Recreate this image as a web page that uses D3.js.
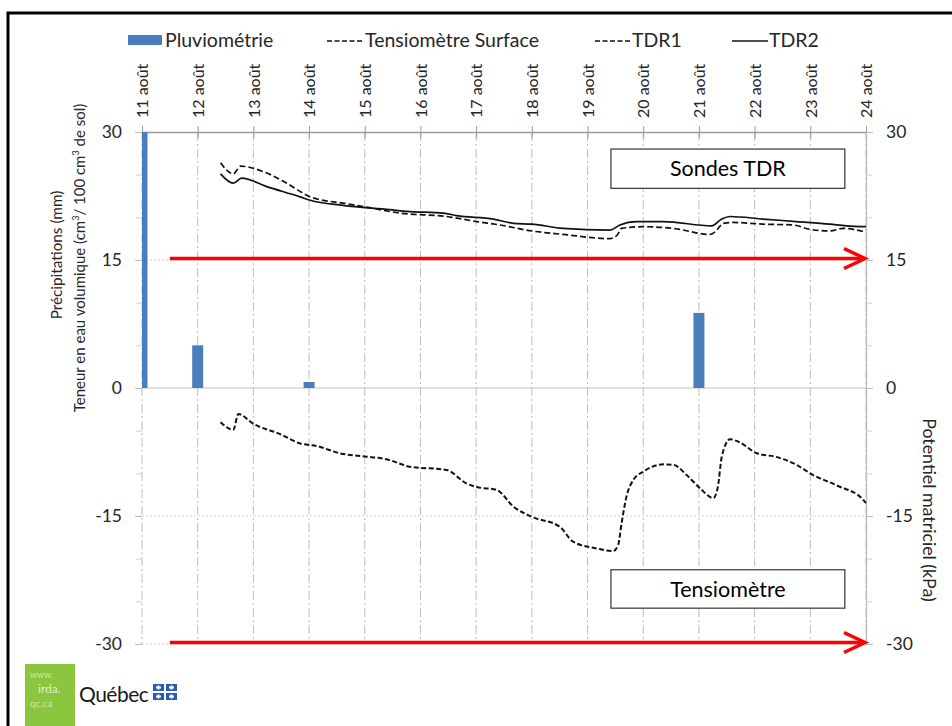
<!DOCTYPE html>
<html>
<head>
<meta charset="utf-8">
<script src="https://cdn.jsdelivr.net/npm/d3@7"></script>
<style>
  body { margin: 0; background: #fff; }
  svg { display: block; font-family: Lato, "Open Sans", sans-serif; }
</style>
</head>
<body>
<div id="chart"></div>
<script>
// Days on the x axis (day number in August)
const dayNums = [11, 12, 13, 14, 15, 16, 17, 18, 19, 20, 21, 22, 23, 24];
const dayLabels = dayNums.map((d) => `${d} août`);

// Daily rainfall (mm)
const rain = [30, 5, 0, 0.7, 0, 0, 0, 0, 0, 0, 8.8, 0, 0, 0];

// TDR1 volumetric water content (t = fractional day, v = cm3/100 cm3)
const tdr1 = [
  [12.41, 26.4], [12.64, 25.1], [12.77, 26.0], [13.2, 25.3], [13.6, 24.0],
  [14.02, 22.4], [14.67, 21.6], [15.03, 21.2], [15.63, 20.5], [16.47, 20.1],
  [17.01, 19.5], [17.43, 19.1], [18.0, 18.4], [18.56, 18.0], [19.4, 17.5],
  [19.53, 17.9], [19.61, 18.7], [20.0, 18.9], [20.54, 18.7], [21.2, 18.0],
  [21.29, 18.3], [21.44, 19.3], [21.62, 19.4], [22.15, 19.2], [22.69, 19.1],
  [22.99, 18.6], [23.35, 18.4], [23.59, 18.7], [24.0, 18.25]
];

// TDR2 volumetric water content
const tdr2 = [
  [12.41, 25.1], [12.64, 24.0], [12.79, 24.6], [13.24, 23.6], [13.84, 22.4],
  [14.02, 22.0], [14.61, 21.4], [15.45, 20.9], [15.75, 20.7], [16.41, 20.5],
  [16.65, 20.2], [17.31, 19.8], [17.67, 19.3], [18.0, 19.2], [18.56, 18.7],
  [19.4, 18.5], [19.58, 19.1], [19.88, 19.5], [20.36, 19.5], [21.23, 19.0],
  [21.41, 19.8], [21.56, 20.1], [22.15, 19.8], [22.75, 19.5], [23.35, 19.2],
  [23.65, 19.0], [24.0, 18.9]
];

// Surface tensiometer, matric potential (kPa)
const tensio = [
  [12.41, -4.0], [12.64, -4.9], [12.73, -3.05], [13.0, -4.2], [13.48, -5.4],
  [13.84, -6.5], [14.14, -6.8], [14.55, -7.65], [15.03, -8.05], [15.39, -8.35],
  [15.69, -9.0], [15.78, -9.2], [16.47, -9.6], [16.83, -11.2], [17.01, -11.6],
  [17.37, -11.95], [17.67, -13.9], [18.0, -15.1], [18.5, -16.25], [18.74, -18.0],
  [19.16, -18.8], [19.46, -19.1], [19.55, -18.4], [19.61, -15.9], [19.7, -12.7],
  [19.82, -10.8], [20.0, -9.8], [20.36, -8.95], [20.54, -9.0], [20.78, -10.2],
  [21.02, -11.75], [21.26, -12.9], [21.34, -11.6], [21.41, -8.05], [21.56, -6.0],
  [21.71, -6.3], [22.04, -7.65], [22.4, -8.1], [22.75, -9.0], [23.05, -10.2],
  [23.47, -11.4], [23.95, -13.1], [24.0, -13.5]
];

const majorTicks = [-30, -15, 0, 15, 30];
const minorTicks = [-25, -20, -10, -5, 5, 10, 20, 25];

const width = 952, height = 726;
const margin = { top: 132, right: 86, bottom: 82, left: 142 };

const svg = d3.select("#chart").append("svg")
  .attr("width", width)
  .attr("height", height);

const x = d3.scaleLinear().domain([11, 24]).range([margin.left, width - margin.right]);
const y = d3.scaleLinear().domain([-30, 30]).range([height - margin.bottom, margin.top]);

const textColor = "#262626";
const gridColor = "#bdbdbd";
const plainNum = (d) => String(d); // keep ASCII hyphen for negatives

// outer frame
svg.append("rect")
  .attr("x", 8).attr("y", 13)
  .attr("width", 970).attr("height", 740)
  .attr("fill", "none").attr("stroke", "#000").attr("stroke-width", 3);

// Vertical gridlines (dash-dot)
svg.append("g")
  .selectAll("line")
  .data(dayNums)
  .join("line")
  .attr("x1", (d) => x(d)).attr("x2", (d) => x(d))
  .attr("y1", y(30)).attr("y2", y(-30))
  .attr("stroke", gridColor)
  .attr("stroke-width", 1)
  .attr("stroke-dasharray", "9,3,2,3");

// Horizontal gridlines
svg.append("g")
  .selectAll("line")
  .data([15, -15, -30])
  .join("line")
  .attr("x1", x(11)).attr("x2", x(24))
  .attr("y1", (d) => y(d)).attr("y2", (d) => y(d))
  .attr("stroke", "#cfcfcf")
  .attr("stroke-dasharray", "2,2");

svg.append("line")
  .attr("x1", x(11)).attr("x2", x(24))
  .attr("y1", y(0)).attr("y2", y(0))
  .attr("stroke", "#c4c4c4").attr("stroke-width", 1.2);

// Top axis with day labels
const topAxis = svg.append("g")
  .attr("transform", `translate(0,${y(30)})`)
  .call(d3.axisTop(x).tickValues(dayNums).tickSize(0).tickFormat((d, i) => dayLabels[i]));
topAxis.select(".domain").attr("stroke", "#9a9a9a").attr("stroke-width", 1.3);
topAxis.selectAll(".tick line").attr("y1", -6).attr("y2", 6).attr("stroke", "#9a9a9a");
topAxis.selectAll(".tick text")
  .attr("transform", "rotate(-90)")
  .attr("x", 14).attr("y", 0).attr("dy", "0.36em")
  .attr("text-anchor", "start")
  .attr("font-family", "Lato, sans-serif")
  .attr("font-size", "16px")
  .attr("fill", textColor);

// Left axis
const leftAxis = svg.append("g")
  .attr("transform", `translate(${x(11)},0)`)
  .call(d3.axisLeft(y).tickValues(majorTicks).tickSize(7).tickPadding(13).tickFormat(plainNum));
leftAxis.select(".domain").remove();
leftAxis.selectAll(".tick line").attr("stroke", "#bdbdbd");
leftAxis.selectAll(".tick text")
  .attr("font-family", "Lato, sans-serif").attr("font-size", "17.5px").attr("fill", textColor);

const leftMinor = svg.append("g")
  .attr("transform", `translate(${x(11)},0)`)
  .call(d3.axisLeft(y).tickValues(minorTicks).tickSize(6).tickFormat(""));
leftMinor.select(".domain").remove();
leftMinor.selectAll(".tick line").attr("stroke", "#d0d0d0");

// Right axis
const rightAxis = svg.append("g")
  .attr("transform", `translate(${x(24)},0)`)
  .call(d3.axisRight(y).tickValues(majorTicks).tickSizeInner(7).tickSizeOuter(0).tickPadding(13).tickFormat(plainNum));
rightAxis.select(".domain").attr("stroke", "#bdbdbd").attr("stroke-width", 1.3);
rightAxis.selectAll(".tick line").attr("stroke", "#bdbdbd");
rightAxis.selectAll(".tick text")
  .attr("font-family", "Lato, sans-serif").attr("font-size", "17.5px").attr("fill", textColor);

const rightMinor = svg.append("g")
  .attr("transform", `translate(${x(24)},0)`)
  .call(d3.axisRight(y).tickValues(minorTicks).tickSize(6).tickFormat(""));
rightMinor.select(".domain").remove();
rightMinor.selectAll(".tick line").attr("stroke", "#d0d0d0");

// Rain bars, clipped to the plot area
svg.append("clipPath").attr("id", "plotClip")
  .append("rect")
  .attr("x", x(11)).attr("y", y(30) - 1)
  .attr("width", x(24) - x(11)).attr("height", y(-30) - y(30) + 2);

const barW = 11;
svg.append("g")
  .attr("clip-path", "url(#plotClip)")
  .selectAll("rect")
  .data(rain.map((v, i) => ({ day: dayNums[i], v })).filter((d) => d.v > 0))
  .join("rect")
  .attr("x", (d) => x(d.day) - barW / 2)
  .attr("y", (d) => y(d.v))
  .attr("width", barW)
  .attr("height", (d) => y(0) - y(d.v))
  .attr("fill", "#4a7ebb");

// Lines
const line = d3.line().x((d) => x(d[0])).y((d) => y(d[1])).curve(d3.curveMonotoneX);

svg.append("path")
  .datum(tdr1)
  .attr("d", line)
  .attr("fill", "none").attr("stroke", "#111").attr("stroke-width", 1.7)
  .attr("stroke-dasharray", "6,3");

svg.append("path")
  .datum(tdr2)
  .attr("d", line)
  .attr("fill", "none").attr("stroke", "#111").attr("stroke-width", 1.7);

svg.append("path")
  .datum(tensio)
  .attr("d", line)
  .attr("fill", "none").attr("stroke", "#111").attr("stroke-width", 2)
  .attr("stroke-dasharray", "5,2.5");

// Red arrows (annotation)
[15, -30].forEach((v) => {
  const yy = y(v) - 1.5;
  svg.append("line")
    .attr("x1", x(11.5)).attr("x2", x(24) - 2)
    .attr("y1", yy).attr("y2", yy)
    .attr("stroke", "#ff0000").attr("stroke-width", 3.5);
  svg.append("path")
    .attr("d", `M${x(24) - 22},${yy - 10} L${x(24) - 1},${yy} L${x(24) - 22},${yy + 10}`)
    .attr("fill", "none").attr("stroke", "#ff0000").attr("stroke-width", 3.5);
});

// Annotation boxes
function labelBox(t0, t1, v0, v1, label) {
  svg.append("rect")
    .attr("x", x(t0)).attr("y", y(v0))
    .attr("width", x(t1) - x(t0)).attr("height", y(v1) - y(v0))
    .attr("fill", "#fff").attr("stroke", "#333").attr("stroke-width", 1.2);
  svg.append("text")
    .attr("x", (x(t0) + x(t1)) / 2).attr("y", (y(v0) + y(v1)) / 2)
    .attr("dy", "0.36em").attr("text-anchor", "middle")
    .attr("font-size", "21.5px").attr("fill", "#000")
    .text(label);
}
labelBox(19.42, 23.62, 28.0, 23.4, "Sondes TDR");
labelBox(19.42, 23.62, -21.3, -25.8, "Tensiomètre");

// Axis titles
svg.append("text")
  .attr("transform", `translate(62,255) rotate(-90)`)
  .attr("text-anchor", "middle").attr("font-size", "15.3px").attr("fill", textColor)
  .text("Précipitations (mm)");

const t2 = svg.append("text")
  .attr("transform", `translate(85,258) rotate(-90)`)
  .attr("text-anchor", "middle").attr("font-size", "15px").attr("fill", textColor);
t2.append("tspan").text("Teneur en eau volumique (cm");
t2.append("tspan").attr("font-size", "9px").attr("dy", "-6").text("3");
t2.append("tspan").attr("dy", "6").text("/ 100 cm");
t2.append("tspan").attr("font-size", "9px").attr("dy", "-6").text("3");
t2.append("tspan").attr("dy", "6").text(" de sol)");

svg.append("text")
  .attr("transform", `translate(923,510) rotate(90)`)
  .attr("text-anchor", "middle").attr("font-size", "17.8px").attr("fill", textColor)
  .text("Potentiel matriciel (kPa)");

// Legend
const legend = svg.append("g").attr("font-size", "19.5px").attr("fill", textColor);
legend.append("rect").attr("x", 128).attr("y", 35).attr("width", 34).attr("height", 10).attr("fill", "#4a7ebb");
legend.append("text").attr("x", 165).attr("y", 47).text("Pluviométrie");
legend.append("line").attr("x1", 327).attr("x2", 364).attr("y1", 41).attr("y2", 41)
  .attr("stroke", "#111").attr("stroke-width", 1.3).attr("stroke-dasharray", "5,2.5");
legend.append("text").attr("x", 365).attr("y", 47).text("Tensiomètre Surface");
legend.append("line").attr("x1", 595).attr("x2", 631).attr("y1", 41).attr("y2", 41)
  .attr("stroke", "#111").attr("stroke-width", 1.3).attr("stroke-dasharray", "5,2.5");
legend.append("text").attr("x", 632).attr("y", 47).text("TDR1");
legend.append("line").attr("x1", 732).attr("x2", 768).attr("y1", 41).attr("y2", 41)
  .attr("stroke", "#111").attr("stroke-width", 1.5);
legend.append("text").attr("x", 769).attr("y", 47).text("TDR2");

// Logo block
const logo = svg.append("g");
logo.append("rect").attr("x", 25).attr("y", 664).attr("width", 50).attr("height", 70).attr("fill", "#8cc63e");
logo.append("text").attr("x", 30).attr("y", 678).attr("font-size", "9px").attr("fill", "#cfe8a8").text("www.");
logo.append("text").attr("x", 38).attr("y", 693).attr("font-size", "12px").attr("fill", "#dff0c4").text("irda.");
logo.append("text").attr("x", 30).attr("y", 707).attr("font-size", "10px").attr("fill", "#cfe8a8").text("qc.ca");
logo.append("text").attr("x", 79).attr("y", 702).attr("font-size", "21px").attr("fill", "#1a1a1a")
  .attr("letter-spacing", "-0.5").text("Québec");
const flag = logo.append("g").attr("transform", "translate(153,684)");
[[0, 0], [13, 0], [0, 9], [13, 9]].forEach(([dx, dy]) => {
  flag.append("rect").attr("x", dx).attr("y", dy).attr("width", 11).attr("height", 7).attr("fill", "#2a5bb0");
  flag.append("rect").attr("x", dx + 4.5).attr("y", dy + 1.5).attr("width", 2).attr("height", 4).attr("fill", "#fff");
  flag.append("rect").attr("x", dx + 3).attr("y", dy + 2.5).attr("width", 5).attr("height", 2).attr("fill", "#fff");
});
</script>
</body>
</html>
